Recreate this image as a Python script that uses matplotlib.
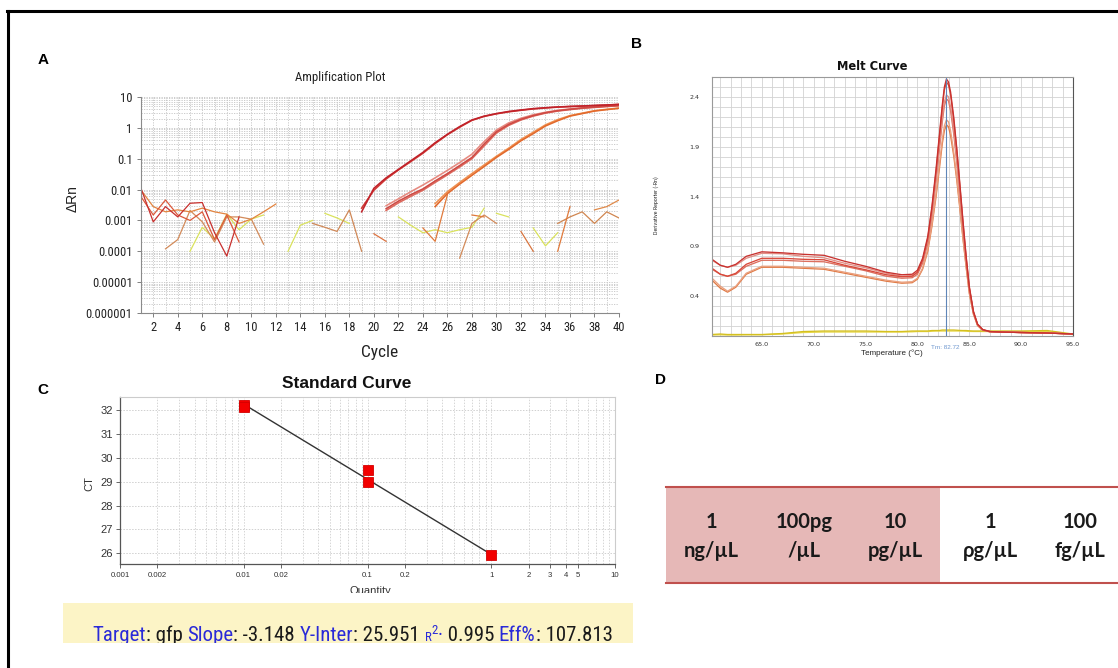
import numpy as np
import matplotlib
matplotlib.use("Agg")
import matplotlib.pyplot as plt
from matplotlib import font_manager
from matplotlib.ticker import FixedLocator, LogLocator, MultipleLocator, NullFormatter
from matplotlib.transforms import Bbox, TransformedBbox, blended_transform_factory
from matplotlib.patches import Rectangle
from matplotlib.lines import Line2D

# ---------------------------------------------------------------- data
# A: amplification plot (delta Rn per cycle)
amp_ticks = [2, 4, 6, 8, 10, 12, 14, 16, 18, 20, 22, 24, 26, 28, 30, 32, 34, 36, 38, 40]
amp_ylabels = ["0.000001", "0.00001", "0.0001", "0.001", "0.01", "0.1", "1", "10"]

hi_cycles = list(range(19, 41))
hi_a = [0.0019, 0.011, 0.024, 0.045, 0.085, 0.16, 0.33, 0.62, 1.1, 1.8, 2.4, 2.9,
        3.4, 3.8, 4.2, 4.5, 4.75, 4.95, 5.1, 5.3, 5.5, 5.8]
hi_b = [0.0025, 0.0095, 0.022, 0.043, 0.080, 0.15, 0.31, 0.60, 1.05, 1.75, 2.35, 2.85,
        3.3, 3.7, 4.1, 4.4, 4.7, 4.9, 5.1, 5.3, 5.5, 5.7]

mid_cycles = list(range(21, 41))
mid_a = [0.0024, 0.0042, 0.0068, 0.0105, 0.019, 0.033, 0.060, 0.11, 0.30, 0.75,
         1.3, 1.9, 2.5, 3.1, 3.6, 4.0, 4.4, 4.7, 5.0, 5.3]
mid_b = [0.0030, 0.0050, 0.0085, 0.014, 0.024, 0.042, 0.075, 0.14, 0.36, 0.85,
         1.45, 2.05, 2.65, 3.2, 3.7, 4.1, 4.5, 4.8, 5.1, 5.4]
mid_c = [0.0021, 0.0037, 0.0060, 0.0095, 0.017, 0.030, 0.054, 0.10, 0.26, 0.68,
         1.2, 1.8, 2.4, 3.0, 3.5, 3.9, 4.3, 4.6, 4.9, 5.2]

low_cycles = list(range(25, 41))
low_a = [0.0028, 0.0074, 0.015, 0.029, 0.056, 0.11, 0.20, 0.38, 0.65, 1.15,
         1.7, 2.4, 2.9, 3.5, 3.9, 4.3]
low_b = [0.0035, 0.0085, 0.017, 0.033, 0.063, 0.12, 0.22, 0.42, 0.72, 1.25,
         1.85, 2.5, 3.0, 3.6, 4.0, 4.4]

# background traces: (first cycle, values)
bg_red1 = (1, [0.011, 0.0009, 0.0028, 0.0013, 0.0036, 0.0038, 0.0004, 0.00007, 0.0013])
bg_red2 = (1, [0.0059, 0.0015, 0.0046, 0.0015, 0.001, 0.0019, 0.00024, 0.0015, 0.0002])
bg_org1 = (1, [0.0096, 0.0028, 0.0019, 0.0022, 0.0019, 0.0025, 0.0019, 0.0016, 0.0008,
               0.0011, 0.0019, 0.0034])
bg_tan1 = (3, [0.00012, 0.00024, 0.0021, 0.0009, 0.0002, 0.0013, 0.0013, 0.0011, 0.00017])
bg_yel1 = (5, [0.0001, 0.0006, 0.00025, 0.0016, 0.0005, 0.0011, 0.0015])
bg_yel2 = (13, [0.0001, 0.0007, 0.001])
bg_yel3 = (16, [0.0017, 0.0012, 0.0008])
bg_tan2 = (15, [0.0008, 0.0006, 0.00044, 0.0022, 0.0001])
bg_org2 = (20, [0.00037, 0.00021])
bg_yel4 = (22, [0.0013, 0.0007, 0.0004, 0.0005, 0.0004, 0.0005, 0.0006, 0.0025])
bg_org3 = (24, [0.00057, 0.00021, 0.0068])
bg_tan3 = (27, [0.00006, 0.0008, 0.0015, 0.0008])
bg_org4 = (28, [0.0015, 0.0013])
bg_yel5 = (30, [0.0017, 0.0013])
bg_org5 = (32, [0.00044, 0.0001])
bg_yel6 = (33, [0.00057, 0.00015, 0.0004])
bg_org6 = (35, [0.0001, 0.0028])
bg_tan4 = (35, [0.0008, 0.0013, 0.0019, 0.0008, 0.0019, 0.0012])
bg_org7 = (38, [0.0022, 0.0028, 0.0046])

# B: melt curve (derivative reporter vs temperature)
melt_temp = [60.2, 61.0, 61.7, 62.5, 63.5, 65.0, 67.0, 69.0, 71.0, 73.0, 75.0, 77.0,
             78.5, 79.5, 80.0, 80.5, 81.0, 81.4, 81.8, 82.1, 82.4, 82.6, 82.8, 83.0,
             83.2, 83.5, 83.8, 84.1, 84.4, 84.7, 85.0, 85.4, 85.8, 86.3, 87.0, 88.0,
             90.0, 92.5, 95.0]
melt_1 = [0.77, 0.71, 0.69, 0.72, 0.80, 0.845, 0.835, 0.82, 0.81, 0.75, 0.70, 0.64, 0.615,
          0.62, 0.66, 0.78, 1.00, 1.30, 1.68, 2.00, 2.32, 2.50, 2.58, 2.55, 2.45, 2.20, 1.88,
          1.52, 1.15, 0.80, 0.50, 0.25, 0.12, 0.065, 0.045, 0.04, 0.035, 0.03, 0.02]
melt_2 = [0.68, 0.62, 0.60, 0.63, 0.72, 0.78, 0.78, 0.77, 0.765, 0.71, 0.665, 0.615, 0.595,
          0.60, 0.64, 0.76, 0.98, 1.28, 1.65, 1.97, 2.29, 2.47, 2.55, 2.52, 2.42, 2.17, 1.86,
          1.50, 1.13, 0.79, 0.49, 0.24, 0.115, 0.062, 0.044, 0.04, 0.035, 0.03, 0.02]
melt_3 = [0.76, 0.71, 0.69, 0.71, 0.78, 0.83, 0.825, 0.80, 0.785, 0.73, 0.685, 0.63, 0.60,
          0.605, 0.64, 0.75, 0.96, 1.24, 1.59, 1.89, 2.19, 2.35, 2.42, 2.40, 2.30, 2.07, 1.78,
          1.44, 1.10, 0.77, 0.48, 0.24, 0.115, 0.062, 0.044, 0.04, 0.035, 0.03, 0.02]
melt_4 = [0.67, 0.62, 0.60, 0.62, 0.70, 0.76, 0.76, 0.75, 0.745, 0.70, 0.655, 0.60, 0.58,
          0.585, 0.62, 0.73, 0.93, 1.21, 1.56, 1.85, 2.15, 2.31, 2.38, 2.36, 2.26, 2.03, 1.74,
          1.41, 1.07, 0.75, 0.47, 0.235, 0.112, 0.06, 0.043, 0.04, 0.035, 0.03, 0.02]
melt_5 = [0.58, 0.50, 0.45, 0.50, 0.63, 0.70, 0.70, 0.69, 0.68, 0.64, 0.60, 0.56, 0.54,
          0.545, 0.58, 0.68, 0.87, 1.12, 1.43, 1.70, 1.97, 2.11, 2.17, 2.15, 2.06, 1.85, 1.59,
          1.29, 0.98, 0.70, 0.44, 0.22, 0.105, 0.058, 0.042, 0.04, 0.035, 0.03, 0.02]
melt_6 = [0.56, 0.48, 0.44, 0.49, 0.62, 0.69, 0.69, 0.68, 0.67, 0.63, 0.59, 0.55, 0.53,
          0.535, 0.57, 0.67, 0.85, 1.10, 1.40, 1.66, 1.93, 2.06, 2.12, 2.10, 2.01, 1.81, 1.56,
          1.27, 0.97, 0.69, 0.43, 0.22, 0.105, 0.058, 0.042, 0.04, 0.035, 0.03, 0.02]
melt_ntc1 = [0.015, 0.02, 0.015, 0.015, 0.015, 0.015, 0.025, 0.045, 0.05, 0.05, 0.05, 0.045,
             0.045, 0.05, 0.05, 0.05, 0.05, 0.055, 0.055, 0.055, 0.06, 0.06, 0.06, 0.06,
             0.06, 0.06, 0.058, 0.056, 0.055, 0.055, 0.052, 0.05, 0.05, 0.05, 0.05, 0.05,
             0.05, 0.055, 0.02]
melt_ntc2 = [0.01, 0.012, 0.01, 0.01, 0.012, 0.012, 0.02, 0.035, 0.04, 0.04, 0.04, 0.04,
             0.04, 0.042, 0.045, 0.045, 0.045, 0.048, 0.05, 0.05, 0.05, 0.05, 0.05, 0.05,
             0.05, 0.05, 0.05, 0.05, 0.05, 0.048, 0.046, 0.045, 0.045, 0.045, 0.045, 0.045,
             0.045, 0.045, 0.015]
melt_xticks = [65, 70, 75, 80, 85, 90, 95]
melt_yticks = [0.4, 0.9, 1.4, 1.9, 2.4]
tm_value = 82.72

# C: standard curve
std_qty = [0.01, 0.01, 0.1, 0.1, 1.0]
std_ct = [32.22, 32.15, 29.47, 28.97, 25.92]
std_slope = -3.148
std_yinter = 25.951
std_r2 = 0.995
std_eff = 107.813
std_xticks = [0.001, 0.002, 0.01, 0.02, 0.1, 0.2, 1, 2, 3, 4, 5, 10]
std_xlabels = ["0.001", "0.002", "0.01", "0.02", "0.1", "0.2", "1", "2", "3", "4", "5", "10"]
std_yticks = [26, 27, 28, 29, 30, 31, 32]

# D: dilution series
dil_amount = ["1", "100pg", "10", "1", "100"]
dil_unit = ["ng/µL", "/µL", "pg/µL", "ρg/µL", "fg/µL"]

# ---------------------------------------------------------------- figure
W, H = 1118, 668
fig = plt.figure(figsize=(W / 100, H / 100), dpi=100)
fig.patch.set_facecolor("white")

SANS = "Liberation Sans"


def pick_condensed():
    entries = font_manager.fontManager.ttflist
    names = {f.name for f in entries}
    for n in ["Liberation Sans Narrow", "Roboto Condensed", "Open Sans Condensed",
              "Arial Narrow", "Nimbus Sans Narrow"]:
        if n in names:
            return {"family": n}, True
    for fam in ["Liberation Sans", "Roboto", "Open Sans", "Noto Sans", "DejaVu Sans"]:
        for f in entries:
            if f.name == fam and str(f.stretch) in ("condensed", "semi-condensed") \
                    and f.weight in (400, "normal", "regular"):
                return {"family": fam, "stretch": str(f.stretch)}, True
    return {"family": SANS}, False


NARROW, HAVE_NARROW = pick_condensed()
NSCALE = 1.0 if HAVE_NARROW else 0.9


def rect(x0, y0, x1, y1):
    return [x0 / W, 1 - y1 / H, (x1 - x0) / W, (y1 - y0) / H]


def fpos(x, y):
    return x / W, 1 - y / H


def clip_to(artist, x0, y0, x1, y1):
    bb = Bbox.from_extents(x0 / W, 1 - y1 / H, x1 / W, 1 - y0 / H)
    artist.set_clip_box(TransformedBbox(bb, fig.transFigure))


# outer frame (top and left edges)
fig.add_artist(Line2D([8 / W, 8 / W], [1 - 11 / H, 0], color="black", lw=2.2,
                      transform=fig.transFigure))
fig.add_artist(Line2D([7 / W, 1], [1 - 11 / H, 1 - 11 / H], color="black", lw=2.2,
                      transform=fig.transFigure))

# panel letters
for letter, x, y in [("A", 43, 60), ("B", 636, 44), ("C", 43, 390), ("D", 661, 380)]:
    fig.text(*fpos(x, y), letter, family=SANS, weight="bold", fontsize=11,
             ha="center", va="center")

# ---------------------------------------------------------------- A
axA = fig.add_axes(rect(141, 97, 619, 313))
axA.set_yscale("log")
axA.set_xlim(1, 40)
axA.set_ylim(1e-6, 10)

bg_traces = [
    (bg_yel1, "#d9e25c"), (bg_yel2, "#d9e25c"), (bg_yel3, "#d9e25c"), (bg_yel4, "#d9e25c"),
    (bg_yel5, "#d9e25c"), (bg_yel6, "#d9e25c"),
    (bg_tan1, "#d38b5a"), (bg_tan2, "#cf8756"), (bg_tan3, "#d38b5a"), (bg_tan4, "#d08650"),
    (bg_org1, "#e3843f"), (bg_org2, "#dd7340"), (bg_org3, "#e07a3c"), (bg_org4, "#e07a3c"),
    (bg_org5, "#d8743e"), (bg_org6, "#e07a3c"), (bg_org7, "#e08a4a"),
    (bg_red2, "#dc5a3c"), (bg_red1, "#c8302e"),
]
for (start, vals), col in bg_traces:
    axA.plot(np.arange(start, start + len(vals)), vals, color=col, lw=0.9)

for cyc, vals, col in [
    (low_cycles, low_b, "#f0904f"), (low_cycles, low_a, "#e2692c"),
    (mid_cycles, mid_b, "#e68a80"), (mid_cycles, mid_c, "#dd6a5e"),
    (mid_cycles, mid_a, "#cf4a44"),
    (hi_cycles, hi_b, "#d23a34"), (hi_cycles, hi_a, "#c0222a"),
]:
    axA.plot(cyc, vals, color=col, lw=1.15)

axA.xaxis.set_major_locator(FixedLocator(amp_ticks))
axA.set_xticklabels([str(t) for t in amp_ticks])
axA.xaxis.set_minor_locator(MultipleLocator(1))
axA.yaxis.set_major_locator(FixedLocator([1e-6, 1e-5, 1e-4, 1e-3, 1e-2, 1e-1, 1, 10]))
axA.set_yticklabels(amp_ylabels)
axA.yaxis.set_minor_locator(LogLocator(base=10, subs=range(2, 10), numticks=20))
axA.yaxis.set_minor_formatter(NullFormatter())
axA.grid(which="both", color="#c4c4c4", lw=0.6, ls=(0, (1.5, 1.5)))
axA.set_axisbelow(True)
axA.tick_params(which="major", length=3, width=0.7, color="#808080", pad=3,
                labelsize=9 * NSCALE, labelcolor="#222222")
axA.tick_params(which="minor", length=0)
for lab in axA.get_xticklabels() + axA.get_yticklabels():
    lab.set(**NARROW)
for s in ["top", "right"]:
    axA.spines[s].set_visible(False)
for s in ["left", "bottom"]:
    axA.spines[s].set_color("#8a8a8a")
    axA.spines[s].set_linewidth(0.8)

fig.text(*fpos(340, 78), "Amplification Plot", fontsize=9.2 * NSCALE,
         ha="center", va="center", color="#222222", **NARROW)
fig.text(*fpos(380, 352), "Cycle", fontsize=12.5 * NSCALE,
         ha="center", va="center", color="#222222", **NARROW)
fig.text(*fpos(73, 199), "ΔRn", family=SANS, fontsize=10, rotation=90,
         ha="center", va="center", color="#222222")

# ---------------------------------------------------------------- B
axB = fig.add_axes(rect(712, 77, 1073, 336))
axB.set_xlim(60.2, 95)
axB.set_ylim(0, 2.6)
for vals, col in [(melt_ntc2, "#e8d84a"), (melt_ntc1, "#d4c020"),
                  (melt_6, "#e07a45"), (melt_5, "#eaa07e"), (melt_4, "#dc6f5e"),
                  (melt_3, "#e28f86"), (melt_2, "#d8483a"), (melt_1, "#c8322f")]:
    axB.plot(melt_temp, vals, color=col, lw=0.95)
axB.axvline(tm_value, color="#5f86b8", lw=0.8)
axB.text(tm_value, -0.045, f"Tm: {tm_value:.2f}",
         transform=blended_transform_factory(axB.transData, axB.transAxes),
         ha="center", va="center", fontsize=4.6, color="#6f98cf", family=SANS)

axB.xaxis.set_major_locator(FixedLocator(melt_xticks))
axB.set_xticklabels([f"{t:.1f}" for t in melt_xticks])
axB.xaxis.set_minor_locator(MultipleLocator(1))
axB.yaxis.set_major_locator(FixedLocator(melt_yticks))
axB.set_yticklabels([f"{t:.1f}" for t in melt_yticks])
axB.yaxis.set_minor_locator(MultipleLocator(0.1))
axB.grid(which="both", color="#d2d2d2", lw=0.6)
axB.set_axisbelow(True)
axB.tick_params(which="both", length=0)
axB.tick_params(axis="x", pad=4, labelsize=4.6, labelcolor="#333333")
axB.tick_params(axis="y", pad=9, labelsize=4.6, labelcolor="#333333")
for s in axB.spines.values():
    s.set_color("#9a9a9a")
    s.set_linewidth(0.8)
axB.spines["right"].set_color("#555555")

fig.text(*fpos(872, 67), "Melt Curve", family="DejaVu Sans", weight="bold", fontsize=8.3,
         ha="center", va="center", color="#111111")
fig.text(*fpos(892, 353), "Temperature (°C)", family=SANS, fontsize=5.8,
         ha="center", va="center", color="#222222")
fig.text(*fpos(656, 205), "Derivative Reporter (-Rn)", fontsize=4.3 * NSCALE,
         rotation=90, ha="center", va="center", color="#333333", **NARROW)

# ---------------------------------------------------------------- C
axC = fig.add_axes(rect(120, 397, 615, 564))
axC.set_xscale("log")
axC.set_xlim(0.001, 10)
axC.set_ylim(25.55, 32.55)
fit_x = np.array([0.01, 1.0])
axC.plot(fit_x, std_yinter + std_slope * np.log10(fit_x), color="#333333", lw=1.0)
axC.plot(std_qty, std_ct, ls="none", marker="s", ms=7.5, color="#f20000",
         mec="#d40000", mew=0.6)

axC.xaxis.set_major_locator(FixedLocator(std_xticks))
axC.set_xticklabels(std_xlabels)
axC.xaxis.set_minor_locator(LogLocator(base=10, subs=range(2, 10), numticks=20))
axC.xaxis.set_minor_formatter(NullFormatter())
axC.yaxis.set_major_locator(FixedLocator(std_yticks))
axC.set_yticklabels([str(t) for t in std_yticks])
axC.grid(which="major", axis="y", color="#d0d0d0", lw=0.7, ls=(0, (1.5, 1.5)))
axC.grid(which="both", axis="x", color="#d6d6d6", lw=0.7, ls=(0, (1.5, 1.5)))
axC.set_axisbelow(True)
axC.tick_params(which="major", length=3, width=0.7, color="#666666")
axC.tick_params(which="minor", length=0)
axC.tick_params(axis="x", labelsize=5.6, pad=3, labelcolor="#333333")
axC.tick_params(axis="y", labelsize=8, pad=2, labelcolor="#333333")
for lab in axC.get_xticklabels() + axC.get_yticklabels():
    lab.set_family(SANS)
for s in ["left", "bottom"]:
    axC.spines[s].set_color("#555555")
    axC.spines[s].set_linewidth(0.9)
for s in ["top", "right"]:
    axC.spines[s].set_color("#cccccc")
    axC.spines[s].set_linewidth(0.8)

fig.text(*fpos(347, 383), "Standard Curve", family=SANS, weight="bold", fontsize=12.5,
         ha="center", va="center", color="#111111")
fig.text(*fpos(89, 484), "CT", family=SANS, fontsize=8, rotation=90,
         ha="center", va="center", color="#333333")
q = fig.text(*fpos(370, 591), "Quantity", family=SANS, fontsize=8,
             ha="center", va="center", color="#333333")
clip_to(q, 300, 580, 440, 593)

# statistics banner
BOX = (63, 603, 633, 643)
fig.add_artist(Rectangle(fpos(BOX[0], BOX[3]), (BOX[2] - BOX[0]) / W, (BOX[3] - BOX[1]) / H,
                         transform=fig.transFigure, facecolor="#fcf4c6", edgecolor="none"))
BLUE, DARK = "#2a2ad8", "#1a1a1a"
pieces = [
    ("Target", BLUE, 1.0, 0), (": gfp ", DARK, 1.0, 0), ("Slope", BLUE, 1.0, 0),
    (f": {std_slope:.3f} ", DARK, 1.0, 0), ("Y-Inter", BLUE, 1.0, 0),
    (f": {std_yinter:.3f} ", DARK, 1.0, 0), ("R", BLUE, 0.62, 0), ("2", BLUE, 0.62, 7),
    ("·", BLUE, 1.0, 0), (f" {std_r2:.3f} ", DARK, 1.0, 0), ("Eff%", BLUE, 1.0, 0),
    (f": {std_eff:.3f}", DARK, 1.0, 0),
]
renderer = fig.canvas.get_renderer()


def advance(s, size):
    t1 = fig.text(0, 0, s + "|", fontsize=size, **NARROW)
    t2 = fig.text(0, 0, "|", fontsize=size, **NARROW)
    w = t1.get_window_extent(renderer).width - t2.get_window_extent(renderer).width
    t1.remove()
    t2.remove()
    return w


base = 15.0
total = sum(advance(s, base * k) for s, _, k, _ in pieces)
base *= (612 - 92) / total
x = 92.0
baseline = 641
for s, col, k, rise in pieces:
    t = fig.text(*fpos(x, baseline - rise), s, fontsize=base * k,
                 color=col, ha="left", va="baseline", **NARROW)
    clip_to(t, BOX[0], BOX[1], BOX[2], BOX[3])
    x += advance(s, base * k)

# ---------------------------------------------------------------- D
TOP, BOT = 487, 583
fig.add_artist(Rectangle(fpos(666, BOT), (940 - 666) / W, (BOT - TOP) / H,
                         transform=fig.transFigure, facecolor="#e6b8b7", edgecolor="none"))
for yy in (TOP, BOT):
    fig.add_artist(Line2D([666 / W, 1], [1 - yy / H, 1 - yy / H], color="#c0504d",
                          lw=1.5, transform=fig.transFigure))
col_x = [711, 804, 895, 990, 1080]
for cx, amt, unit in zip(col_x, dil_amount, dil_unit):
    fig.text(*fpos(cx, 522), amt, family=["Lato", "DejaVu Sans"], weight="bold",
             fontsize=14.5, ha="center", va="center", color="#1a1a1a")
    fig.text(*fpos(cx, 551), unit, family=["Lato", "DejaVu Sans"], weight="bold",
             fontsize=14.5, ha="center", va="center", color="#1a1a1a")

fig.savefig("out.png", dpi=100, facecolor="white")
